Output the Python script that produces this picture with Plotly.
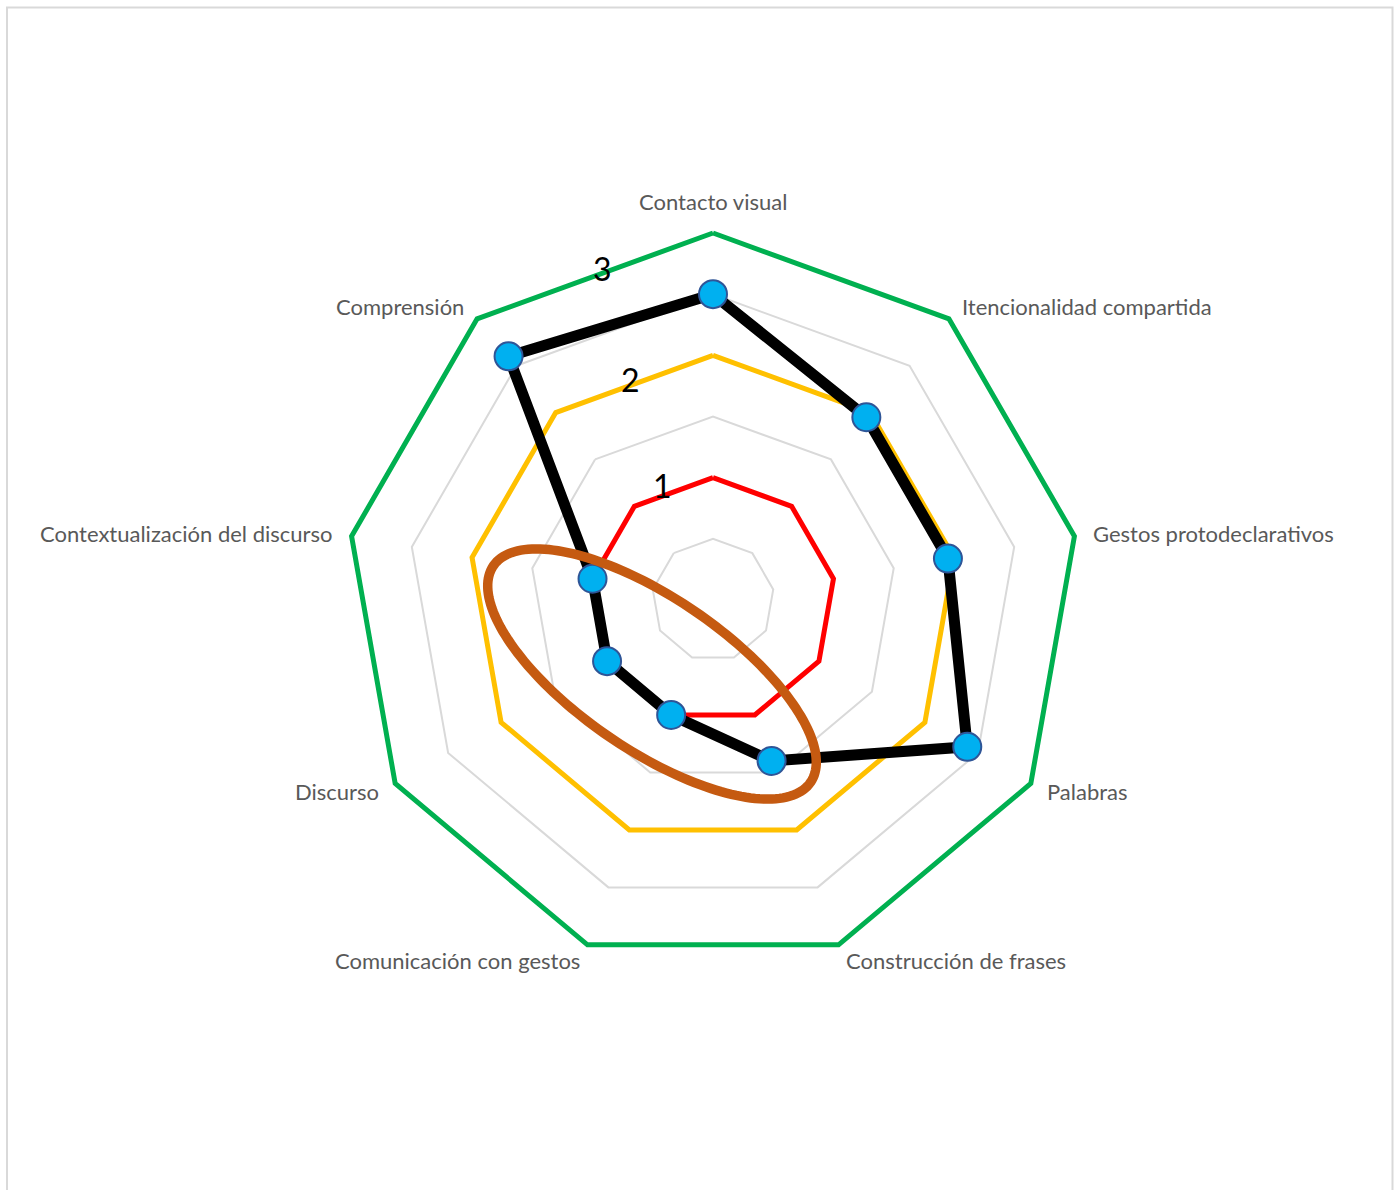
import numpy as np
import plotly.graph_objects as go

# Axes of the communication profile (clockwise from the top)
categorias = [
    "Contacto visual",
    "Itencionalidad compartida",
    "Gestos protodeclarativos",
    "Palabras",
    "Construcción de frases",
    "Comunicación con gestos",
    "Discurso",
    "Contextualización del discurso",
    "Comprensión",
]

# Reference levels
nivel_1 = [1, 1, 1, 1, 1, 1, 1, 1, 1]
nivel_2 = [2, 2, 2, 2, 2, 2, 2, 2, 2]
nivel_3 = [3, 3, 3, 3, 3, 3, 3, 3, 3]

# Observed profile
perfil = [2.5, 1.95, 1.95, 2.4, 1.4, 1.0, 1.0, 1.0, 2.6]

# Scale labels drawn next to the vertical axis
etiquetas_escala = ["1", "2", "3"]

FONT = "Lato"
W, H = 1398, 1190
CX, CY, R = 713, 600, 367  # centre and radius of the level-3 ring, in px
R_TOP = 3          # value drawn at radius R
R_MAX = 3.06       # a little headroom so the outer ring is not clipped
R_DOM = R * R_MAX / R_TOP


def closed(vals):
    return list(vals) + [vals[0]]


theta = closed(categorias)

fig = go.Figure()

for vals, color in [(nivel_1, "#FF0000"), (nivel_2, "#FFC000"), (nivel_3, "#00B050")]:
    fig.add_trace(go.Scatterpolar(
        r=closed(vals), theta=theta, mode="lines",
        line=dict(color=color, width=5), cliponaxis=False,
        hoverinfo="skip", showlegend=False,
    ))

fig.add_trace(go.Scatterpolar(
    r=closed(perfil), theta=theta, mode="lines",
    line=dict(color="#000000", width=11), cliponaxis=False,
    showlegend=False,
))
fig.add_trace(go.Scatterpolar(
    r=perfil, theta=categorias, mode="markers",
    marker=dict(size=28, color="#00B0F0", line=dict(color="#2F5597", width=2)),
    cliponaxis=False, showlegend=False,
))

# Highlight ellipse around the low-scoring axes (centre, semi-axes, tilt in px)
e_cx, e_cy, e_a, e_b, e_rot = 652, 674, 192, 76, np.deg2rad(34.3)
t = np.linspace(0, 2 * np.pi, 181)
ex = e_cx + e_a * np.cos(t) * np.cos(e_rot) - e_b * np.sin(t) * np.sin(e_rot)
ey = e_cy + e_a * np.cos(t) * np.sin(e_rot) + e_b * np.sin(t) * np.cos(e_rot)
px = ex / W
py = 1 - ey / H
path = "M " + " L ".join(f"{x:.5f},{y:.5f}" for x, y in zip(px, py)) + " Z"

shapes = [
    dict(type="path", path=path, xref="paper", yref="paper",
         line=dict(color="#C55A11", width=9.5), fillcolor="rgba(0,0,0,0)", layer="above"),
    dict(type="rect", xref="paper", yref="paper",
         x0=7 / W, x1=1392.5 / W, y0=-0.05, y1=1 - 7.5 / H,
         line=dict(color="#D9D9D9", width=2), fillcolor="rgba(0,0,0,0)", layer="below"),
]

# Category labels: placed just outside each vertex, anchored away from the centre
annotations = []
LABEL_GAP = 16.5
n = len(categorias)
for i, name in enumerate(categorias):
    ang = np.deg2rad(90 - 360 * i / n)
    c, s = np.cos(ang), np.sin(ang)
    lx = CX + (R + LABEL_GAP) * c
    ly = CY - (R + LABEL_GAP) * s
    xanchor = "left" if c > 0.2 else ("right" if c < -0.2 else "center")
    yanchor = "bottom" if s > 0.9 else "middle"
    annotations.append(dict(
        text=name, x=lx / W, y=1 - ly / H, xref="paper", yref="paper",
        showarrow=False, xanchor=xanchor, yanchor=yanchor,
        font=dict(family=FONT, size=22, color="#595959"),
    ))

# Scale labels placed along the upper-left of the vertical axis
label_pos = [(662, 485), (630, 379), (602, 268)]
annotations += [
    dict(text=txt, x=x / W, y=1 - y / H, xref="paper", yref="paper",
         showarrow=False, xanchor="center", yanchor="middle",
         font=dict(family=FONT, size=32, color="#000000"))
    for txt, (x, y) in zip(etiquetas_escala, label_pos)
]

fig.update_layout(
    width=W, height=H,
    margin=dict(l=0, r=0, t=0, b=0),
    paper_bgcolor="white",
    plot_bgcolor="white",
    showlegend=False,
    shapes=shapes,
    annotations=annotations,
    polar=dict(
        domain=dict(x=[(CX - R_DOM) / W, (CX + R_DOM) / W],
                    y=[(H - CY - R_DOM) / H, (H - CY + R_DOM) / H]),
        bgcolor="white",
        gridshape="linear",
        radialaxis=dict(
            range=[0, R_MAX], tickvals=[0.5, 1, 1.5, 2, 2.5, 3],
            showticklabels=False, ticks="",
            showline=False, gridcolor="#D9D9D9", gridwidth=1.5,
        ),
        angularaxis=dict(
            rotation=90, direction="clockwise", showgrid=False, showline=False,
            ticks="", showticklabels=False,
        ),
    ),
)

fig.write_html("out.html")
